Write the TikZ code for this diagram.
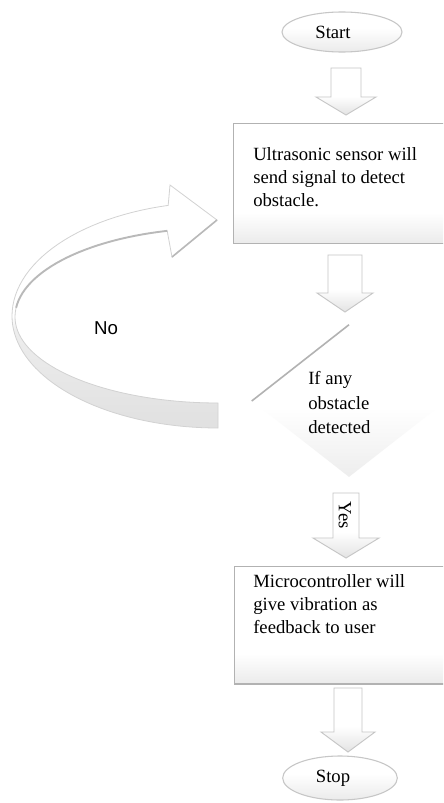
\documentclass[tikz,border=0pt]{standalone}
\usepackage{fontspec}
\setmainfont{Liberation Serif}
\newfontfamily\arialf{Liberation Sans}
\usetikzlibrary{shapes.geometric}
\pgfdeclareverticalshading{boxshade}{100bp}{color(0bp)=(gray!16); color(25bp)=(gray!16); color(38bp)=(white); color(100bp)=(white)}
\pgfdeclareverticalshading{arrowshade}{100bp}{color(0bp)=(gray!22); color(25bp)=(gray!22); color(45bp)=(white); color(100bp)=(white)}
\pgfdeclareverticalshading{ovalshade}{100bp}{color(0bp)=(gray!16); color(25bp)=(gray!16); color(55bp)=(white); color(100bp)=(white)}
\pgfdeclareverticalshading{diashade}{100bp}{color(0bp)=(gray!14); color(25bp)=(gray!14); color(48bp)=(white); color(100bp)=(white)}
\pgfdeclareverticalshading{curveshade}{100bp}{color(0bp)=(gray!24); color(25bp)=(gray!24); color(45bp)=(gray!14); color(48bp)=(white); color(100bp)=(white)}
\newcommand{\blockdown}[7]{%
  \path[blockarrow] (#1-#5,#2) coordinate (#7) -- (#1+#5,#2) -- (#1+#5,#3) -- (#1+#6,#3)
    -- (#1,#4) -- (#1-#6,#3) -- (#1-#5,#3) -- cycle;}
\begin{document}
\begin{tikzpicture}[x=0.75pt,y=-0.75pt,
  txt/.style={font=\fontsize{14}{17.25}\selectfont, inner sep=0, align=left},
  box/.style={rectangle, draw=gray!60, line width=1pt, shading=boxshade, inner sep=0, anchor=north west},
  oval/.style={ellipse, draw=gray!45, line width=0.8pt, shading=ovalshade, inner sep=0},
  blockarrow/.style={draw=gray!45, line width=0.7pt, shading=arrowshade},
  curvearrow/.style={draw=gray!35, line width=0.6pt, shading=curveshade}]
\useasboundingbox (0,0) rectangle (443,803);
\clip (0,0) rectangle (443,803);
\fill[white] (0,0) rectangle (443,803);

% Start
\node[oval, minimum width=90pt, minimum height=30pt] (start) at (342,32) {};
\node[txt, font=\fontsize{14}{17}\selectfont] (starttext) at (333,32) {Start};

% arrow 1
\blockdown{346}{68}{97}{115}{15}{30}{a1}

% box 1
\node[box, minimum width=178pt, minimum height=90pt] (box1) at (233,123) {};
\node[txt, anchor=north west] (box1text) at (253,147) {Ultrasonic sensor will\\send signal to detect\\obstacle.};

% arrow 2
\blockdown{345}{255}{293}{312}{17}{28}{a2}

% decision diamond
\node[diamond, shading=diashade, inner sep=0, aspect=1.276, minimum width=145.5pt, minimum height=114pt] (dec) at (349,401) {};
\draw[gray!60, line width=1.2pt] (dec.north) -- (dec.west);
\node[txt, anchor=north west, font=\fontsize{14}{18.5}\selectfont] (dectext) at (308,371) {If any\\obstacle\\detected};

% curved "No" arrow
\path[curvearrow]
  plot[domain=90:180, samples=40] ({218+206*cos(\x)},{316+112*sin(\x)})
  -- plot[domain=180:256, samples=30] ({218+206*cos(\x)},{316+114*sin(\x)})
  -- (170,185) -- (217,220) -- (172,257)
  -- plot[domain=255.5:180, samples=30] ({218+203*cos(\x)},{317+89*sin(\x)})
  -- plot[domain=180:90, samples=40] ({218+203*cos(\x)},{317+86*sin(\x)})
  -- cycle;
\draw[gray!55, line width=1.4pt] plot[domain=255.5:186, samples=30] ({218+203*cos(\x)},{317+89*sin(\x)});
\draw[gray!55, line width=1.2pt] (217,220) -- (172,257);
\node[font=\arialf\fontsize{14}{17}\selectfont, inner sep=0] (no) at (106,328) {No};

% Yes arrow
\blockdown{346}{493}{538}{558}{13}{33}{a3}
\node[txt, rotate=-90] (yes) at (345,515) {Yes};

% box 2
\node[box, minimum width=178pt, minimum height=88pt] (box2) at (234,566) {};
\node[txt, anchor=north west] (box2text) at (253,574) {Microcontroller will\\give vibration as\\feedback to user};

% arrow 4
\blockdown{348}{688}{732}{752}{14}{27}{a4}

% Stop
\node[oval, minimum width=86pt, minimum height=33pt] (stop) at (340,778) {};
\node[txt] (stoptext) at (333,778) {Stop};
\end{tikzpicture}
\end{document}
